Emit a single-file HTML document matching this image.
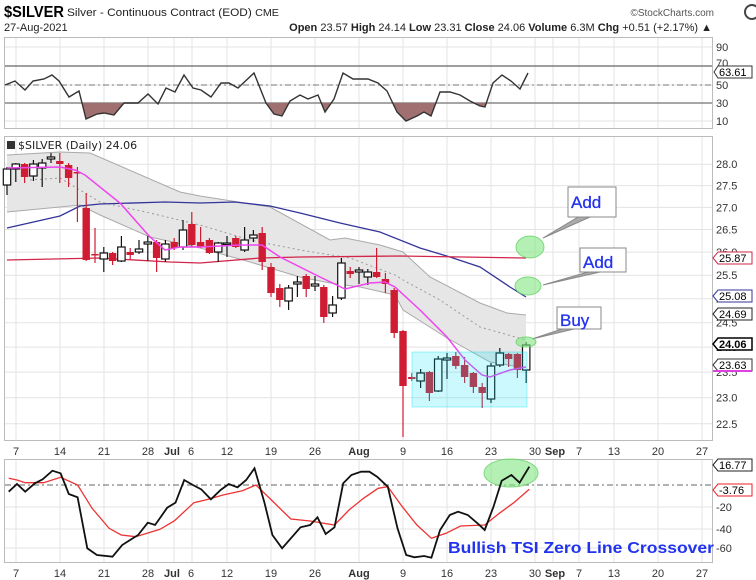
<!DOCTYPE html>
<html><head><meta charset="utf-8"><style>
html,body{margin:0;padding:0;background:#fff;}
svg{display:block;font-family:"Liberation Sans",Arial,sans-serif;}
</style></head><body>
<svg id="s" width="756" height="580" viewBox="0 0 756 580" xmlns="http://www.w3.org/2000/svg">
<rect width="756" height="580" fill="#fff"/>
<g id="grid" stroke="#e3e3e3" stroke-width="1"></g>
<!-- header -->
<text x="4" y="17" font-size="16" font-weight="bold" fill="#000" textLength="60" lengthAdjust="spacingAndGlyphs">$SILVER</text>
<text x="67" y="16" font-size="11" fill="#222" textLength="212" lengthAdjust="spacingAndGlyphs">Silver - Continuous Contract (EOD) <tspan font-size="10">CME</tspan></text>
<text x="714" y="16" font-size="10" fill="#555" text-anchor="end">©StockCharts.com</text>
<text x="4" y="31" font-size="11" fill="#222">27-Aug-2021</text>
<text x="712" y="31" font-size="11" fill="#222" text-anchor="end"><tspan font-weight="bold">Open</tspan> 23.57 <tspan font-weight="bold">High</tspan> 24.14 <tspan font-weight="bold">Low</tspan> 23.31 <tspan font-weight="bold">Close</tspan> 24.06 <tspan font-weight="bold">Volume</tspan> 6.3M <tspan font-weight="bold">Chg</tspan> +0.51 (+2.17%) ▲</text>
<circle cx="752" cy="12" r="7" fill="none" stroke="#444" stroke-width="2"/>
<!-- panel borders -->
<rect x="4.5" y="37.5" width="708" height="91" fill="none" stroke="#bbb"/>
<rect x="4.5" y="136.5" width="708" height="304" fill="none" stroke="#bbb"/>
<rect x="4.5" y="459.5" width="708" height="103" fill="none" stroke="#bbb"/>
<!-- RSI -->
<line x1="5" y1="66" x2="712" y2="66" stroke="#666" stroke-width="1.2"/>
<line x1="5" y1="103" x2="712" y2="103" stroke="#888" stroke-width="1.5"/>
<line x1="5" y1="85" x2="712" y2="85" stroke="#777" stroke-dasharray="6,3,2,3"/>
<g id="rsi"></g>
<g font-size="11" fill="#333">
<text x="716" y="51">90</text><text x="716" y="67">70</text><text x="716" y="89">50</text><text x="716" y="107">30</text><text x="716" y="125">10</text>
</g>
<path d="M714 72 l4 -6 h34 v12 h-34 z" fill="#fff" stroke="#333"/>
<text x="719" y="76" font-size="11" fill="#000">63.61</text>
<!-- main -->
<g id="main"></g>
<g font-size="11" fill="#333" id="plab"></g>
<text x="18" y="149" font-size="11" fill="#222" font-family="DejaVu Sans">$SILVER (Daily) 24.06</text>
<rect x="7" y="141" width="8" height="8" fill="#333"/>
<!-- tags -->
<g font-size="11">
<path d="M713 258 l5 -6 h34 v12 h-34 z" fill="#fff" stroke="#d2264a"/><text x="719" y="262">25.87</text>
<path d="M713 296 l5 -6 h34 v12 h-34 z" fill="#fff" stroke="#33339a"/><text x="719" y="300">25.08</text>
<path d="M713 314 l5 -6 h34 v12 h-34 z" fill="#fff" stroke="#222"/><text x="719" y="318">24.69</text>
<path d="M713 344 l5 -6 h34 v12 h-34 z" fill="#fff" stroke="#000" stroke-width="1.5"/><text x="719" y="348" font-weight="bold">24.06</text>
<path d="M713 365 l5 -6 h34 v12 h-34 z" fill="#fff" stroke="#333"/><line x1="713" y1="371" x2="752" y2="371" stroke="#e040e0" stroke-width="2"/><text x="719" y="369">23.63</text>
</g>
<!-- callouts -->
<g fill="#fff" stroke="#888">
<path d="M578 217 L543 238 L590 217 Z" fill="#aaa"/>
<rect x="568" y="187" width="48" height="30"/>
<path d="M588 272 L543 285 L600 272 Z" fill="#aaa"/>
<rect x="580" y="248" width="46" height="24"/>
<path d="M562 329 L532 339 L574 329 Z" fill="#aaa"/>
<rect x="557" y="307" width="44" height="22"/>
</g>
<g font-size="17" fill="#2233ee" stroke="#2233ee" stroke-width="0.3">
<text x="571" y="208">Add</text><text x="583" y="268">Add</text><text x="560" y="326">Buy</text>
</g>
<g fill="rgba(130,230,130,0.6)" stroke="rgba(100,210,100,0.8)">
<ellipse cx="530" cy="247" rx="14" ry="11"/>
<ellipse cx="528" cy="286" rx="13" ry="9"/>
<ellipse cx="526" cy="342" rx="10" ry="5"/>
</g>
<!-- date labels -->
<g font-size="11" fill="#333" text-anchor="middle">
<text x="16" y="455">7</text><text x="60" y="455">14</text><text x="104" y="455">21</text><text x="148" y="455">28</text><text x="172" y="455" font-weight="bold">Jul</text><text x="191" y="455">6</text><text x="227" y="455">12</text><text x="271" y="455">19</text><text x="315" y="455">26</text><text x="359" y="455" font-weight="bold">Aug</text><text x="403" y="455">9</text><text x="447" y="455">16</text><text x="491" y="455">23</text><text x="535" y="455">30</text><text x="555" y="455" font-weight="bold">Sep</text><text x="579" y="455">7</text><text x="614" y="455">13</text><text x="658" y="455">20</text><text x="702" y="455">27</text>
</g>
<g font-size="11" fill="#333" text-anchor="middle">
<text x="16" y="577">7</text><text x="60" y="577">14</text><text x="104" y="577">21</text><text x="148" y="577">28</text><text x="172" y="577" font-weight="bold">Jul</text><text x="191" y="577">6</text><text x="227" y="577">12</text><text x="271" y="577">19</text><text x="315" y="577">26</text><text x="359" y="577" font-weight="bold">Aug</text><text x="403" y="577">9</text><text x="447" y="577">16</text><text x="491" y="577">23</text><text x="535" y="577">30</text><text x="555" y="577" font-weight="bold">Sep</text><text x="579" y="577">7</text><text x="614" y="577">13</text><text x="658" y="577">20</text><text x="702" y="577">27</text>
</g>
<!-- TSI -->
<line x1="5" y1="485" x2="712" y2="485" stroke="#666" stroke-dasharray="6,3,2,3"/>
<g font-size="11" fill="#333"><text x="716" y="511">-20</text><text x="716" y="533">-40</text><text x="716" y="552">-60</text></g>
<ellipse cx="511" cy="473" rx="27" ry="14" fill="rgba(130,230,130,0.6)" stroke="rgba(100,210,100,0.8)"/>
<g id="tsi"></g>
<path d="M713 465 l5 -6 h34 v12 h-34 z" fill="#fff" stroke="#222"/><text x="719" y="469" font-size="11">16.77</text>
<path d="M713 490 l5 -6 h34 v12 h-34 z" fill="#fff" stroke="#e22"/><text x="719" y="494" font-size="11">-3.76</text>
<text x="448" y="553" font-size="16" font-weight="bold" fill="#2233ee" textLength="266" lengthAdjust="spacingAndGlyphs">Bullish TSI Zero Line Crossover</text>
</svg>
<script>
var NS="http://www.w3.org/2000/svg";
function el(p,t,a){var e=document.createElementNS(NS,t);for(var k in a)e.setAttribute(k,a[k]);p.appendChild(e);return e;}
function pl(pts){return pts.map(function(p){return p[0]+","+p[1];}).join(" ");}
var g=document.getElementById("grid");
[16,60,104,148,174,192,227,271,315,359,403,447,491,535,553,579,614,658,702].forEach(function(x){
 el(g,"line",{x1:x,y1:38,x2:x,y2:128});el(g,"line",{x1:x,y1:137,x2:x,y2:440});el(g,"line",{x1:x,y1:460,x2:x,y2:562});});
[47,66,85,103,121].forEach(function(y){el(g,"line",{x1:5,y1:y,x2:712,y2:y});});
function py(p){return 397.7-1187*Math.log(p/23);}
var pl_=document.getElementById("plab");
[28,27.5,27,26.5,26,25.5,25,24.5,24,23.5,23,22.5].forEach(function(p){var y=py(p);el(g,"line",{x1:5,y1:y,x2:712,y2:y});
 var t=el(pl_,"text",{x:716,y:y+4});t.textContent=p.toFixed(1);});
[507,529,548].forEach(function(y){el(g,"line",{x1:5,y1:y,x2:712,y2:y});});
var r=document.getElementById("rsi");
var rp=[[5,85],[15,81],[25,90],[33,81],[44,79],[52,75],[59,81],[69,97],[79,91],[86,119],[97,114],[104,113],[114,115],[124,103],[138,103],[148,94],[158,104],[166,88],[175,92],[184,75],[193,88],[201,90],[211,97],[221,83],[229,83],[238,88],[254,73],[266,103],[274,114],[282,116],[290,101],[300,95],[308,99],[318,95],[325,112],[334,99],[343,73],[353,79],[368,79],[378,83],[387,91],[397,112],[406,121],[417,116],[424,112],[431,116],[440,92],[450,92],[460,95],[470,101],[480,106],[485,107],[493,83],[502,75],[511,81],[520,89],[528,73]];
var cp=document.createElementNS(NS,"clipPath");cp.id="below";document.getElementById("s").appendChild(cp);el(cp,"rect",{x:0,y:103,width:756,height:30});
el(r,"polygon",{points:pl(rp)+" 528,103 5,103",fill:"#a07070","clip-path":"url(#below)"});
el(r,"polyline",{points:pl(rp),fill:"none",stroke:"#333","stroke-width":1.4});
var m=document.getElementById("main");
var up=[[7,155],[60,152],[90,153],[180,192],[200,196],[270,207],[330,240],[345,238],[380,245],[403,252],[430,277],[480,303],[507,313],[526,315]];
var lo=[[7,212],[60,207],[80,205],[100,215],[150,237],[200,248],[250,262],[300,277],[330,283],[360,287],[395,295],[403,310],[447,338],[490,362],[526,368]];
el(m,"polygon",{points:pl(up)+" "+pl(lo.slice().reverse()),fill:"#e6e6e6"});
el(m,"polyline",{points:pl(up),fill:"none",stroke:"#aaa"});
el(m,"polyline",{points:pl(lo),fill:"none",stroke:"#aaa"});
el(m,"polyline",{points:pl([[30,180],[60,178],[100,202],[150,213],[200,225],[250,240],[300,250],[350,258],[395,275],[403,280],[440,300],[480,327],[526,340]]),fill:"none",stroke:"#999","stroke-dasharray":"2,3"});
el(m,"polyline",{points:pl([[7,228],[60,216],[80,206],[100,204],[165,202],[200,203],[235,202],[270,206],[300,213],[340,223],[380,232],[420,248],[450,257],[480,267],[510,287],[526,297]]),fill:"none",stroke:"#33339a","stroke-width":1.3});
el(m,"polyline",{points:pl([[7,260],[100,258],[170,262],[200,263],[260,258],[300,257],[400,256],[526,258]]),fill:"none",stroke:"#d2264a","stroke-width":1.3});
var c=[[185,169,167,195],[169,164,163,182],[164,177,163,183],[176,164,160,181],[168,163,159,187],[159,157,153,163],[161,164,153,183],[165,178,163,187],[172,173,167,222],[208,260,193,261],[254,255,228,263],[259,253,247,272],[253,261,252,265],[261,247,236,262],[252,255,248,259],[252,249,240,254],[244,242,236,261],[242,258,240,272],[259,244,240,262],[242,248,238,250],[247,230,220,250],[224,245,212,247],[242,247,227,248],[240,253,238,254],[252,243,242,262],[244,243,236,257],[238,247,236,248],[250,240,227,252],[238,235,230,242],[233,262,227,270],[267,293,263,297],[288,300,284,307],[301,288,285,310],[284,282,276,297],[276,289,274,297],[286,284,276,291],[287,317,285,323],[313,305,296,317],[298,263,258,300],[271,274,267,278],[272,270,267,284],[277,272,269,285],[272,277,248,278],[279,284,273,293],[290,333,288,338],[331,386,330,437],[377,379,373,381],[381,373,369,388],[372,393,371,401],[391,359,356,392],[360,358,353,379],[356,366,352,369],[365,377,357,383],[373,387,372,393],[387,393,383,408],[399,366,363,403],[365,353,348,367],[354,359,353,367],[354,370,353,378],[370,345,342,383]];
c.forEach(function(d,i){var x=7+8.8*i,o=d[0],cl=d[1],dn=cl>o;var col=dn?"#d01c32":"#111";
 el(m,"line",{x1:x,y1:d[2],x2:x,y2:d[3],stroke:col,"stroke-width":1.2});
 var t=Math.min(o,cl),h=Math.max(Math.abs(cl-o),1.5);
 el(m,"rect",{x:x-3.7,y:t,width:7.4,height:h,fill:dn?"#d01c32":"#fff",stroke:col,"stroke-width":dn?0:1.2});});
el(m,"polyline",{points:pl([[7,168],[60,167],[75,170],[85,175],[120,203],[150,237],[165,250],[180,247],[200,247],[240,245],[262,245],[280,257],[320,277],[345,289],[370,283],[385,282],[395,287],[420,310],[447,337],[465,360],[482,375],[490,377],[510,370],[526,367]]),fill:"none",stroke:"#ee44ee","stroke-width":1.5});
el(m,"rect",{x:412,y:352,width:115,height:55,fill:"rgba(0,225,245,0.2)",stroke:"rgba(0,220,240,0.35)"});
var ts=document.getElementById("tsi");
function tz(a){return a.map(function(p){return [(p[0]/2.063).toFixed(1),(440+p[1]/3).toFixed(1)];});}
var sig=[[18,115],[35,120],[52,128],[90,128],[125,112],[160,135],[190,205],[225,265],[250,285],[280,290],[330,268],[360,242],[400,188],[430,178],[460,165],[500,152],[528,135],[560,180],[600,237],[640,243],[690,255],[720,210],[750,175],[780,145],[800,140],[830,200],[860,255],[890,295],[920,280],[950,258],[1000,255],[1030,220],[1060,188],[1092,148]];
var tsi=[[18,155],[35,132],[52,155],[72,130],[88,118],[108,92],[125,100],[142,162],[160,172],[180,325],[200,345],[232,350],[252,315],[285,285],[305,248],[320,255],[345,203],[362,188],[380,120],[398,135],[415,148],[435,178],[455,150],[472,132],[490,142],[508,120],[525,85],[545,185],[562,285],[582,325],[620,262],[640,255],[655,232],[672,282],[690,262],[708,130],[725,105],[745,95],[762,95],[778,110],[800,140],[820,265],[838,345],[855,352],[875,348],[890,353],[908,270],[928,225],[945,215],[965,225],[985,250],[1000,270],[1018,200],[1035,122],[1055,105],[1072,128],[1092,80]];
el(ts,"polyline",{points:pl(tz(sig)),fill:"none",stroke:"#ee3333","stroke-width":1.3});
el(ts,"polyline",{points:pl(tz(tsi)),fill:"none",stroke:"#111","stroke-width":1.8});
</script>
</body></html>
